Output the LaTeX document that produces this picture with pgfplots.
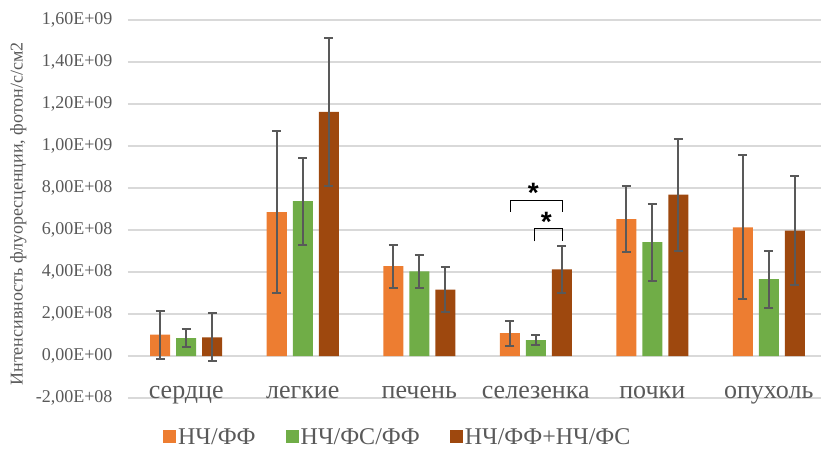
\documentclass[border=0pt]{standalone}
\usepackage{fontspec}
\setmainfont{Liberation Serif}
\newfontfamily\sansf{Liberation Sans}
\usepackage{pgfplots}
\pgfplotsset{compat=1.18}
\usepackage{pgfplotstable}
\definecolor{cOr}{HTML}{ED7D31}
\definecolor{cGr}{HTML}{70AD47}
\definecolor{cBr}{HTML}{9E480E}
\definecolor{txt}{HTML}{595959}
\definecolor{grd}{HTML}{D9D9D9}

\pgfplotstableread{
x y e
0 1.02e8 1.14e8
1 6.85e8 3.85e8
2 4.28e8 1.02e8
3 1.09e8 0.59e8
4 6.52e8 1.58e8
5 6.13e8 3.43e8
}\tA
\pgfplotstableread{
x y e
0 0.85e8 0.44e8
1 7.37e8 2.08e8
2 4.03e8 0.77e8
3 0.76e8 0.22e8
4 5.42e8 1.84e8
5 3.66e8 1.36e8
}\tB
\pgfplotstableread{
x y e
0 0.89e8 1.15e8
1 11.62e8 3.52e8
2 3.16e8 1.08e8
3 4.12e8 1.12e8
4 7.68e8 2.67e8
5 5.97e8 2.60e8
}\tC

\pgfplotsset{myerr/.style={error bars/.cd, y dir=both, y explicit,
   error bar style={draw=txt, line width=2pt},
   error mark options={draw=txt, rotate=90, mark size=4.5pt, line width=2pt}}}

\begin{document}
\begin{tikzpicture}
\begin{axis}[
  scale only axis, width=699pt, height=378pt,
  xmin=-0.5, xmax=5.5, ymin=-2e8, ymax=1.6e9,
  ybar=6pt, bar width=20pt,
  xtick={0,1,2,3,4,5},
  xticklabels={сердце,легкие,печень,селезенка,почки,опухоль},
  ytick={-2e8,0,2e8,4e8,6e8,8e8,1e9,1.2e9,1.4e9,1.6e9},
  yticklabels={{-2,00E+08},{0,00E+00},{2,00E+08},{4,00E+08},{6,00E+08},{8,00E+08},{1,00E+09},{1,20E+09},{1,40E+09},{1,60E+09}},
  scaled y ticks=false,
  ymajorgrids, grid style={grd, line width=1.3pt},
  axis line style={draw=none},
  major tick length=0pt,
  xticklabel style={font=\fontsize{26}{28}\selectfont, text=txt, anchor=base},
  yticklabel style={font=\fontsize{18}{20}\selectfont, text=txt, xshift=-12pt},
  ylabel={Интенсивность флуоресценции, фотон/с/см2},
  ylabel style={font=\fontsize{18}{20}\selectfont, text=txt, at={(axis description cs:-0.157,0.487)}, anchor=center},
  legend style={at={(axis description cs:0.386,-0.103)}, anchor=center, legend columns=3, draw=none, fill=none,
     font=\fontsize{24}{26}\selectfont, text=txt, /tikz/every even column/.append style={column sep=28pt}},
  legend image code/.code={\fill[#1] (0pt,-6.5pt) rectangle (13pt,6.5pt);},
]
\addplot[fill=cOr, draw=none, myerr] table[x=x,y=y,y error=e]{\tA};
\addlegendentry{НЧ/ФФ}
\addplot[fill=cGr, draw=none, myerr] table[x=x,y=y,y error=e]{\tB};
\addlegendentry{НЧ/ФС/ФФ}
\addplot[fill=cBr, draw=none, myerr] table[x=x,y=y,y error=e]{\tC};
\addlegendentry{НЧ/ФФ+НЧ/ФС}
\draw[black, line width=1.2pt] (axis cs:2.781,6.86e8) -- (axis cs:2.781,7.40e8) -- (axis cs:3.233,7.40e8) -- (axis cs:3.233,6.86e8);
\draw[black, line width=1.2pt] (axis cs:2.990,5.46e8) -- (axis cs:2.990,6.07e8) -- (axis cs:3.233,6.07e8) -- (axis cs:3.233,5.46e8);
\node[font=\sansf\bfseries\fontsize{28}{30}\selectfont, anchor=base, yshift=-17pt] at (axis cs:2.98,8.13e8) {*};
\node[font=\sansf\bfseries\fontsize{28}{30}\selectfont, anchor=base, yshift=-17pt] at (axis cs:3.09,6.75e8) {*};
\end{axis}
\pgfresetboundingbox
\path[use as bounding box] (-128pt,-50pt) rectangle (693pt,398pt);
\end{tikzpicture}
\end{document}
